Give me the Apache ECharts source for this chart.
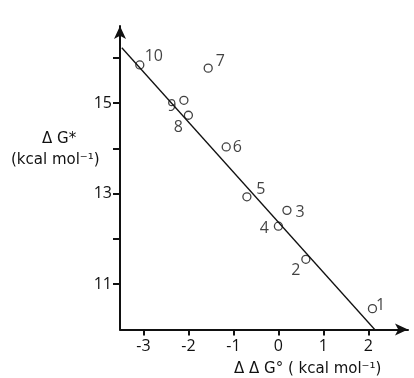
<!DOCTYPE html>
<html>
<head>
<meta charset="utf-8">
<style>html,body{margin:0;padding:0;background:#fff}#c{width:414px;height:378px}</style>
<script src="https://cdn.jsdelivr.net/npm/echarts@6/dist/echarts.min.js"></script>
</head>
<body>
<div id="c"></div>
<script>
// Data
const pointIds = ['1','2','3','4','5','6','7','8','9','10'];
const ddG = [2.09, 0.61, 0.19, 0.00, -0.70, -1.16, -1.56, -2.00, -2.10, -3.08];
const dGstar = [10.46, 11.55, 12.63, 12.28, 12.93, 14.03, 15.77, 14.73, 15.06, 15.84];
const fitX = [-3.48, 2.14];
const fitY = [16.22, 10.0];
const xTicks = [-3, -2, -1, 0, 1, 2];
const yTicks = [11, 12, 13, 14, 15, 16];
const yTickLabels = [11, 13, 15];

// label placement (pixel offsets from the circle centre)
const labelOffsets = {
  '1': [8, -3], '2': [-10, 11], '3': [13, 2], '4': [-14, 2], '5': [14, -7],
  '6': [11, 0], '7': [12, -7], '8': [-10, 12], '9': [-12, 6], '10': [14, -9]
};

const FONT = 'Open Sans';
const TFONT = 'DejaVu Sans';
const chart = echarts.init(document.getElementById('c'), null, {renderer: 'canvas'});

const scatterData = pointIds.map((id, i) => ({
  value: [ddG[i], dGstar[i]],
  label: {
    show: true, formatter: id, position: 'inside',
    offset: labelOffsets[id], color: '#111', fontSize: 16, fontFamily: FONT
  }
}));

chart.setOption({
  animation: false,
  backgroundColor: '#fff',
  grid: {left: 120, right: 6, top: 26, bottom: 48.5, containLabel: false},
  xAxis: {
    type: 'value', min: -3.52, max: 2.88,
    splitLine: {show: false},
    axisLine: {onZero: false, lineStyle: {color: '#111', width: 2}, symbol: ['none', 'arrow'], symbolSize: [9, 13]},
    axisTick: {show: true, length: 6, lineStyle: {color: '#111', width: 2}, customValues: xTicks},
    axisLabel: {color: '#111', fontSize: 16, fontFamily: FONT, margin: 9, customValues: xTicks,
      formatter: v => (v < 0 ? '-' + Math.abs(v) : String(v))}
  },
  yAxis: {
    type: 'value', min: 10, max: 16.70,
    splitLine: {show: false},
    axisLine: {onZero: false, lineStyle: {color: '#111', width: 2}, symbol: ['none', 'arrow'], symbolSize: [9, 13]},
    axisTick: {show: true, length: 7, lineStyle: {color: '#111', width: 2}, customValues: yTicks},
    axisLabel: {color: '#111', fontSize: 16, fontFamily: FONT, margin: 8, customValues: yTickLabels}
  },
  graphic: [
    {type: 'text', left: 42, top: 132, style: {text: 'Δ G*', fill: '#111', font: '15px "' + TFONT + '"'}},
    {type: 'text', left: 11, top: 153, style: {text: '(kcal mol⁻¹)', fill: '#111', font: '15px "' + TFONT + '"'}},
    {type: 'text', left: 234, top: 362, style: {text: 'Δ Δ G° ( kcal mol⁻¹)', fill: '#111', font: '15px "' + TFONT + '"'}}
  ],
  series: [
    {
      type: 'line', data: fitX.map((x, i) => [x, fitY[i]]),
      symbol: 'none', lineStyle: {color: '#111', width: 1.3}, silent: true
    },
    {
      type: 'scatter', data: scatterData,
      symbol: 'circle', symbolSize: 8,
      itemStyle: {color: '#fff', borderColor: '#111', borderWidth: 1.3}
    }
  ]
});
</script>
</body>
</html>
